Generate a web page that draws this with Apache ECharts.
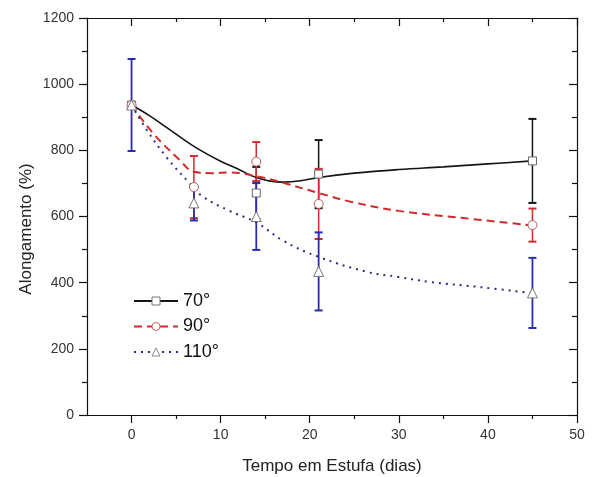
<!DOCTYPE html>
<html>
<head>
<meta charset="utf-8">
<script src="https://cdn.jsdelivr.net/npm/echarts@6/dist/echarts.min.js"></script>
<style>
html,body{margin:0;padding:0;background:#fff;}
#c{width:593px;height:477px;}
</style>
</head>
<body>
<div id="c"></div>
<script>
// ---- data ----
const seriesNames = ['70°', '90°', '110°'];
const xTickValues = [0, 10, 20, 30, 40, 50];
const xMinorValues = [5, 15, 25, 35, 45];

// measured points (mean ± error)
const x70 = [0, 14, 21, 45];
const y70 = [937, 671, 728, 768];
const e70 = [0, 79, 103, 127];

const x90 = [0, 7, 14, 21, 45];
const y90 = [937, 689, 766, 638, 574];
const e90 = [0, 94, 59, 106, 50];

const x110 = [0, 7, 14, 21, 45];
const y110 = [937, 641, 600, 434, 369];
const e110 = [139, 53, 101, 118, 106];

// fitted curves
const fit70x = [0, 2, 4, 7, 10, 12, 14, 17, 19, 21, 25, 30, 35, 40, 45];
const fit70y = [937, 905, 868, 812, 767, 743, 718, 704, 708, 718, 731, 742, 750, 759, 768];
const fit90x = [0, 2.4, 5.4, 7, 9, 11, 14, 17, 21, 24.7, 30, 37, 45];
const fit90y = [937, 852, 771, 735, 731, 733, 722, 702, 671, 644, 617, 596, 573];
const fit110x = [0, 1.7, 3.9, 6.5, 8, 11, 14, 17, 21, 26.5, 30, 33.5, 39, 45];
const fit110y = [937, 862, 780, 701, 660, 617, 582, 527, 478, 432, 417, 402, 387, 368];

const FONT = "'Liberation Sans', Arial, sans-serif";
const zip = (a, b) => a.map((v, i) => [v, b[i]]);

function errSeries(name, xs, ys, es, color, width, z) {
  const data = [];
  xs.forEach((x, i) => { if (es[i] > 0) data.push([x, ys[i] - es[i], ys[i] + es[i]]); });
  return {
    type: 'custom', name: name, z: z, silent: true,
    data: data,
    encode: { x: 0, y: [1, 2] },
    renderItem: function (params, api) {
      const lo = api.coord([api.value(0), api.value(1)]);
      const hi = api.coord([api.value(0), api.value(2)]);
      const hw = 4;
      return {
        type: 'group',
        children: [
          { type: 'line', shape: { x1: lo[0], y1: lo[1], x2: hi[0], y2: hi[1] }, style: { stroke: color, lineWidth: width } },
          { type: 'line', shape: { x1: lo[0] - hw, y1: lo[1], x2: lo[0] + hw, y2: lo[1] }, style: { stroke: color, lineWidth: 2 } },
          { type: 'line', shape: { x1: hi[0] - hw, y1: hi[1], x2: hi[0] + hw, y2: hi[1] }, style: { stroke: color, lineWidth: 2 } }
        ]
      };
    }
  };
}

function fitSeries(name, xs, ys, color, type, width, symbol, symColor) {
  return {
    type: 'line', name: name, smooth: 0.4, showSymbol: false, symbol: symbol, symbolSize: 8,
    data: zip(xs, ys), z: 2, silent: true,
    lineStyle: { color: color, width: width, type: type },
    itemStyle: { color: '#fff', borderColor: symColor, borderWidth: 1 }
  };
}

function pointSeries(name, xs, ys, symbol, size, symColor) {
  return {
    type: 'scatter', name: name, symbol: symbol, symbolSize: size, z: 10, silent: true,
    data: zip(xs, ys),
    itemStyle: { color: '#fff', borderColor: symColor, borderWidth: 1, opacity: 1 }
  };
}

const black = '#151515', red = '#d22b2b', blue = '#2b2bb0', navy = '#2e2e86';
const axisCol = { color: '#111', width: 1.2 };

const chart = echarts.init(document.getElementById('c'));
chart.setOption({
  animation: false,
  backgroundColor: '#fff',
  grid: [
    { left: 87, right: 16, top: 18, bottom: 62, containLabel: false, outerBoundsMode: 'none' },
    { left: 87, right: 16, top: 18, bottom: 62, containLabel: false, outerBoundsMode: 'none' }
  ],
  xAxis: [
    {
      type: 'value', gridIndex: 0, position: 'bottom', min: -5, max: 50,
      axisLine: { onZero: false, lineStyle: axisCol },
      axisTick: { length: 8, customValues: xTickValues, lineStyle: axisCol },
      axisLabel: { customValues: xTickValues, margin: 13, fontFamily: FONT, fontSize: 14, color: '#333' },
      splitLine: { show: false },
      name: 'Tempo em Estufa (dias)', nameLocation: 'middle', nameGap: 43,
      nameTextStyle: { fontFamily: FONT, fontSize: 17, color: '#222' }
    },
    {
      type: 'value', gridIndex: 0, position: 'top', min: -5, max: 50,
      axisLine: { onZero: false, lineStyle: axisCol },
      axisTick: { inside: true, length: 8, customValues: xTickValues, lineStyle: axisCol },
      axisLabel: { show: false }, splitLine: { show: false }
    },
    {
      type: 'value', gridIndex: 1, position: 'bottom', min: -5, max: 50,
      axisLine: { show: false, onZero: false },
      axisTick: { length: 4, customValues: xMinorValues, lineStyle: axisCol },
      axisLabel: { show: false }, splitLine: { show: false }
    },
    {
      type: 'value', gridIndex: 1, position: 'top', min: -5, max: 50,
      axisLine: { show: false, onZero: false },
      axisTick: { inside: true, length: 4, customValues: xMinorValues, lineStyle: axisCol },
      axisLabel: { show: false }, splitLine: { show: false }
    }
  ],
  yAxis: [
    {
      type: 'value', gridIndex: 0, position: 'left', min: 0, max: 1200, interval: 200,
      axisLine: { show: true, onZero: false, lineStyle: axisCol },
      axisTick: { show: true, length: 8, lineStyle: axisCol },
      minorTick: { show: true, splitNumber: 2, length: 5, lineStyle: axisCol },
      axisLabel: { margin: 13, fontFamily: FONT, fontSize: 14, color: '#333', formatter: v => String(v) },
      splitLine: { show: false }
    },
    {
      type: 'value', gridIndex: 0, position: 'right', min: 0, max: 1200, interval: 200,
      axisLine: { show: true, onZero: false, lineStyle: axisCol },
      axisTick: { show: true, inside: true, length: 8, lineStyle: axisCol },
      minorTick: { show: true, splitNumber: 2, length: 5, lineStyle: axisCol },
      axisLabel: { show: false }, splitLine: { show: false }
    },
    { type: 'value', gridIndex: 1, min: 0, max: 1200, show: false, axisLine: { onZero: false } }
  ],
  legend: {
    data: [
      { name: '70°', itemStyle: { color: '#fff', borderColor: '#777', borderWidth: 1 } },
      { name: '90°', itemStyle: { color: '#fff', borderColor: '#d06060', borderWidth: 1 } },
      { name: '110°', itemStyle: { color: '#fff', borderColor: '#888', borderWidth: 1 } }
    ],
    orient: 'vertical', left: 133, top: 292, padding: 0,
    itemWidth: 44, itemHeight: 10, itemGap: 7.5,
    textStyle: { fontFamily: FONT, fontSize: 18, color: '#111' },
    selectedMode: false
  },
  graphic: [
    {
      type: 'text', x: 26, y: 229, rotation: Math.PI / 2,
      style: { text: 'Alongamento (%)', font: "17px 'Liberation Sans', Arial, sans-serif", fill: '#222', textAlign: 'center', textVerticalAlign: 'middle' }
    }
  ],
  series: [
    fitSeries('70°', fit70x, fit70y, black, 'solid', 1.6, 'rect', '#777'),
    fitSeries('90°', fit90x, fit90y, red, [8, 5], 2, 'circle', '#d06060'),
    fitSeries('110°', fit110x, fit110y, navy, [2, 5], 2, 'triangle', '#888'),
    errSeries('e70', x70, y70, e70, black, 1.5, 4),
    errSeries('e90', x90, y90, e90, red, 1.5, 5),
    errSeries('e110', x110, y110, e110, blue, 1.8, 6),
    pointSeries('p70', x70, y70, 'rect', 8, '#666'),
    pointSeries('p90', x90, y90, 'circle', 9, '#b06060'),
    pointSeries('p110', x110, y110, 'triangle', 10, '#777')
  ]
});
</script>
</body>
</html>
